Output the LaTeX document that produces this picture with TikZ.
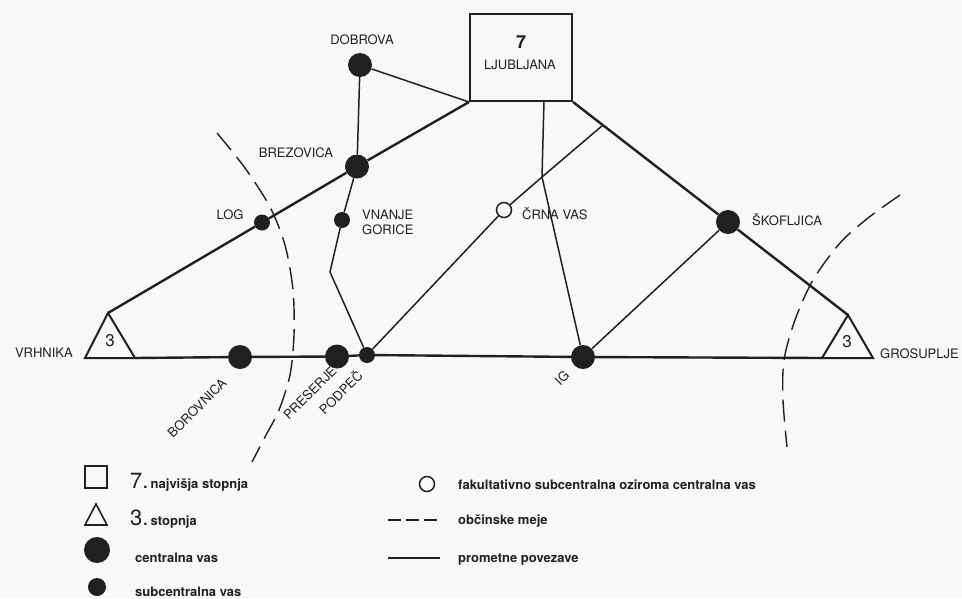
\documentclass[tikz,border=0pt]{standalone}
\usepackage{fontspec}
\setmainfont{TeX Gyre Heros}
\definecolor{ink}{RGB}{32,32,32}
\definecolor{paper}{RGB}{248,248,246}
\tikzset{
  road/.style={line width=2.4pt, draw=ink},
  link/.style={line width=1.5pt, draw=ink},
  border/.style={line width=1.4pt, draw=ink, dash pattern=on 22pt off 9pt},
  cvas/.style={circle, fill=ink, inner sep=0pt, minimum size=24pt},
  svas/.style={circle, fill=ink, inner sep=0pt, minimum size=16pt},
  fvas/.style={circle, draw=ink, fill=paper, line width=1.5pt, inner sep=0pt, minimum size=15pt},
  place/.style={font=\fontsize{13}{13}\selectfont, text=ink, inner sep=0pt, text height=9.4pt, text depth=0pt},
  lgd/.style={font=\bfseries\fontsize{13}{13}\selectfont, text=ink, inner sep=0pt, anchor=base west},
}
\newcommand{\bignum}{\mdseries\fontsize{22}{22}\selectfont}
\begin{document}
\begin{tikzpicture}[x=1pt,y=-1pt]
\fill[paper] (0,0) rectangle (962,598);
\useasboundingbox (0,0) rectangle (962,598);

\node[draw=ink, line width=2pt, minimum width=102pt, minimum height=87pt] (lj) at (521,57.5) {};
\node[text=ink, font=\bfseries\fontsize{18}{18}\selectfont] at (521,42) {7};
\node[place] (l-lj) at (520,65) {LJUBLJANA};

\coordinate (vrh-t) at (108,313);
\coordinate (vrh-l) at (85,358);
\coordinate (vrh-r) at (135,358);
\coordinate (gro-t) at (848,315);
\coordinate (gro-l) at (822,358);
\coordinate (gro-r) at (873,358);
\draw[ink, line width=2pt, line join=miter] (vrh-l) -- (vrh-t) -- (vrh-r) -- cycle;
\draw[ink, line width=2pt, line join=miter] (gro-l) -- (gro-t) -- (gro-r) -- cycle;
\node[text=ink, font=\fontsize{17}{17}\selectfont] at (110,341) {3};
\node[text=ink, font=\fontsize{17}{17}\selectfont] at (847,342) {3};

\node[cvas] (dobrova) at (360,65) {};
\node[cvas] (brezovica) at (357,166.5) {};
\node[svas] (log) at (262,222.5) {};
\node[svas] (vnanje) at (342,220) {};
\node[fvas] (crna) at (504,210) {};
\node[cvas] (skof) at (728,222) {};
\node[cvas] (borovnica) at (240,357) {};
\node[cvas] (preserje) at (337,356.5) {};
\node[svas] (podpec) at (367,355) {};
\node[cvas] (ig) at (583,357) {};

\coordinate (ljs) at (544,101);
\coordinate (junc) at (542,177);
\coordinate (rd) at (603,125);
\coordinate (bend) at (330,272);

\draw[road] (vrh-t) -- (log) -- (brezovica) -- (lj.south west);
\draw[road] (lj.south east) -- (skof) -- (gro-t);
\draw[road] (vrh-r) -- (borovnica) -- (preserje) -- (podpec) -- (ig) -- (gro-l);
\draw[link] (dobrova) -- (lj.south west);
\draw[link] (dobrova) -- (brezovica);
\draw[link] (brezovica) -- (vnanje) -- (bend) -- (podpec);
\draw[link] (podpec) -- (crna) -- (junc) -- (rd);
\draw[link] (ljs) -- (junc) -- (ig);
\draw[link] (skof) -- (ig);

\draw[border] plot[smooth] coordinates {(217,133) (245,168) (270,207) (285,245) (293,290) (294,335) (290,375) (279,410) (265,437) (252,462)};
\draw[border] plot[smooth] coordinates {(900,195) (868,218) (840,243) (813,280) (795,320) (784,360) (783,400) (787,447)};

\node[place] (l-dobrova) at (362,40) {DOBROVA};
\node[place] (l-brezovica) at (296,153) {BREZOVICA};
\node[place] (l-log) at (230,215) {LOG};
\node[text=ink, font=\fontsize{13}{15}\selectfont, inner sep=0pt, align=left, anchor=north west] (l-vnanje) at (362,210) {VNANJE\\GORICE};
\node[place, anchor=west] (l-crna) at (522,215) {ČRNA VAS};
\node[place, anchor=west] (l-skof) at (752,221) {ŠKOFLJICA};
\node[place, anchor=east] (l-vrh) at (73,353) {VRHNIKA};
\node[place, anchor=west] (l-gro) at (880,354) {GROSUPLJE};
\node[place, rotate=45] (l-borovnica) at (197,408) {BOROVNICA};
\node[place, rotate=45] (l-preserje) at (310,393) {PRESERJE};
\node[place, rotate=45] (l-podpec) at (341,393) {PODPEČ};
\node[place, rotate=45] (l-ig) at (562,378) {IG};

\node[draw=ink, line width=1.6pt, minimum size=22pt, inner sep=0pt] (k-lj) at (96,477) {};
\draw[ink, line width=1.6pt, line join=miter] (85,525) -- (96,504) -- (107,525) -- cycle;
\node[cvas, minimum size=26pt] (k-c) at (97,550) {};
\node[svas, minimum size=18pt] (k-s) at (97,587) {};
\node[fvas] (k-f) at (427,484) {};
\draw[ink, line width=1.5pt, dash pattern=on 13pt off 5pt] (388,520) -- (440,520);
\draw[ink, line width=1.5pt] (388,558) -- (440,558);

\node[lgd] (t-lj) at (130,488) {{\bignum 7.}\,najvišja stopnja};
\node[lgd] (t-tri) at (130,525) {{\bignum 3.}\,stopnja};
\node[lgd] (t-c) at (135,562) {centralna vas};
\node[lgd] (t-s) at (135,596) {subcentralna vas};
\node[lgd] (t-f) at (458,489) {fakultativno subcentralna oziroma centralna vas};
\node[lgd] (t-b) at (458,524) {občinske meje};
\node[lgd] (t-p) at (458,562) {prometne povezave};
\end{tikzpicture}
\end{document}
